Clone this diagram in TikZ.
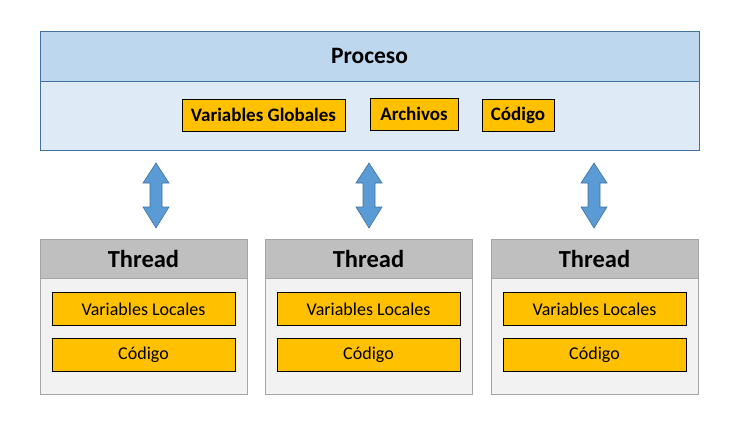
\documentclass[tikz,border=0pt]{standalone}
\usepackage{fontspec}
\setmainfont{Carlito}
\usetikzlibrary{positioning,calc}
\definecolor{procline}{HTML}{41719C}
\definecolor{prochead}{HTML}{BDD7EE}
\definecolor{procbody}{HTML}{DEEBF7}
\definecolor{thrline}{HTML}{A5A5A5}
\definecolor{thrhead}{HTML}{BFBFBF}
\definecolor{thrbody}{HTML}{F2F2F2}
\definecolor{item}{HTML}{FFC000}
\definecolor{arrowfill}{HTML}{5B9BD5}
\tikzset{
	procbox/.style={draw=procline, line width=0.8pt, inner sep=0pt, minimum width=659pt},
	thrbox/.style={draw=thrline, line width=0.8pt, inner sep=0pt, minimum width=207pt},
	itembox/.style={draw=black, fill=item, line width=0.8pt, inner sep=0pt, minimum height=32pt},
	linkarrow/.style={draw=procline, fill=arrowfill, line width=0.6pt, line join=miter}
}

\begin{document}
\begin{tikzpicture}[x=1pt, y=-1pt]
	\useasboundingbox (0,0) rectangle (749,433);

	% proceso
	\node[procbox, fill=prochead, minimum height=50pt,
		font=\fontsize{23.5}{28}\selectfont\bfseries] (phead) at (369.5,56) {Proceso};
	\node[procbox, fill=procbody, minimum height=69pt, below=0pt of phead] (pbody) {};
	\node[itembox, minimum width=163pt, font=\fontsize{19}{23}\selectfont\bfseries] (glob) at (263.5,115) {Variables Globales};
	\node[itembox, minimum width=88pt, font=\fontsize{19}{23}\selectfont\bfseries] (arch) at (414,114) {Archivos};
	\node[itembox, minimum width=72pt, font=\fontsize{19}{23}\selectfont\bfseries] (cod) at (518,115) {Código};

	% threads
	\foreach \i/\x/\ax in {1/143.5/156, 2/368.5/369, 3/594.5/594} {
		\node[thrbox, fill=thrhead, minimum height=39pt,
			font=\fontsize{24.5}{29}\selectfont\bfseries] (th\i) at (\x,258.5) {Thread};
		\node[thrbox, fill=thrbody, minimum height=116pt, below=0pt of th\i] (tb\i) {};
		\node[itembox, minimum width=183pt, minimum height=33pt, below=14pt of tb\i.north,
			font=\fontsize{18}{22}\selectfont] (loc\i) {Variables Locales};
		\node[itembox, minimum width=183pt, minimum height=33pt, below=12pt of loc\i,
			font=\fontsize{18}{22}\selectfont] (tc\i) {Código};

		\coordinate (top\i) at (\ax,163);
		\coordinate (bot\i) at (\ax,228);
		\draw[linkarrow] (top\i) -- ++(13,20) -- ++(-7,0) -- ++(0,24) -- ++(7,0)
			-- (bot\i) -- ++(-13,-21) -- ++(7,0) -- ++(0,-24) -- ++(-7,0) -- cycle;
	}
\end{tikzpicture}
\end{document}
